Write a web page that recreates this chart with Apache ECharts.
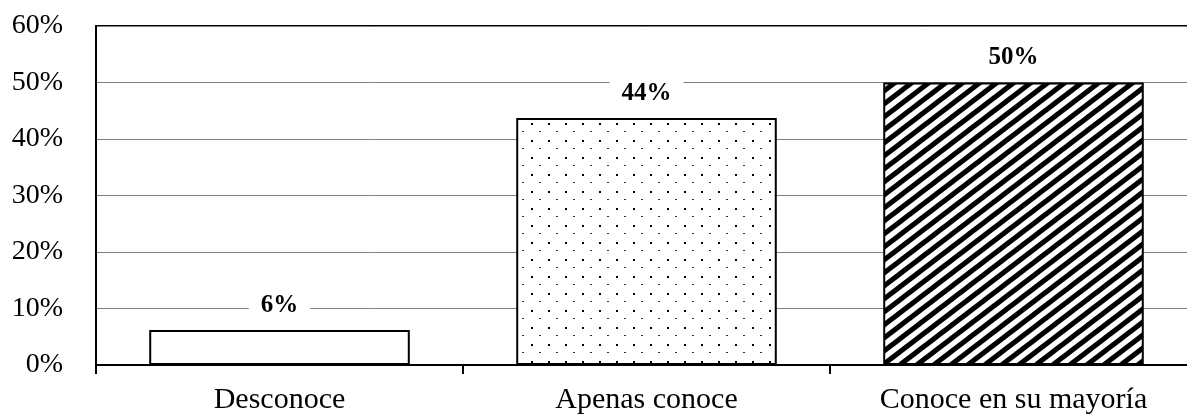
<!DOCTYPE html>
<html>
<head>
<meta charset="utf-8">
<script src="https://cdn.jsdelivr.net/npm/echarts@6/dist/echarts.min.js"></script>
<style>
  html,body{margin:0;padding:0;background:#fff;overflow:hidden;}
  #chart{width:1197px;height:417px;}
</style>
</head>
<body>
<div id="chart"></div>
<script>
// datos
var categorias = ['Desconoce', 'Apenas conoce', 'Conoce en su mayoría'];
var valores = [6.2, 43.7, 50.0];
var etiquetas = ['6%', '44%', '50%'];

// tramas de relleno
function tramaPuntos() {
  var c = document.createElement('canvas');
  c.width = 17; c.height = 17;
  var ctx = c.getContext('2d');
  ctx.fillStyle = '#fff';
  ctx.fillRect(0, 0, 17, 17);
  ctx.fillStyle = '#000';
  ctx.fillRect(4, 4, 2, 2);
  ctx.fillStyle = '#333';
  ctx.fillRect(12, 12, 2, 1);
  return c;
}
function tramaRayas() {
  var w = 17, h = 13;
  var c = document.createElement('canvas');
  c.width = w; c.height = h;
  var ctx = c.getContext('2d');
  ctx.fillStyle = '#fff';
  ctx.fillRect(0, 0, w, h);
  ctx.strokeStyle = '#000';
  ctx.lineWidth = 5;
  for (var k = -2; k <= 2; k++) {
    // lineas largas para que no queden cortes en las esquinas
    ctx.beginPath();
    ctx.moveTo(k * w - w, 2 * h);
    ctx.lineTo(k * w + 2 * w, -h);
    ctx.stroke();
  }
  return c;
}

var rellenos = ['#ffffff',
  {image: tramaPuntos(), repeat: 'repeat'},
  {image: tramaRayas(), repeat: 'repeat'}];

var chart = echarts.init(document.getElementById('chart'));
var option = {
  animation: false,
  textStyle: {fontFamily: 'Liberation Serif'},
  grid: {
    left: 96, right: 0, top: 26, bottom: 52,
    show: true, borderColor: '#000', borderWidth: 2, backgroundColor: 'transparent'
  },
  xAxis: {
    type: 'category',
    data: categorias,
    axisLine: {lineStyle: {color: '#000', width: 2}},
    axisTick: {show: true, length: 9, lineStyle: {color: '#000', width: 2}},
    axisLabel: {color: '#000', fontSize: 30, margin: 20, fontFamily: 'Liberation Serif'}
  },
  yAxis: {
    type: 'value',
    min: 0, max: 60, interval: 10,
    axisLine: {show: true, lineStyle: {color: '#000', width: 2}},
    axisTick: {show: false},
    splitLine: {lineStyle: {color: '#808080', width: 1}},
    axisLabel: {color: '#000', fontSize: 28, margin: 33, formatter: '{value}%', fontFamily: 'Liberation Serif'}
  },
  series: [{
    type: 'bar',
    barCategoryGap: '29%',
    data: valores.map(function (v, i) {
      return {
        value: v,
        itemStyle: {color: rellenos[i]},
        label: {formatter: etiquetas[i]}
      };
    }),
    itemStyle: {borderColor: '#000', borderWidth: 2},
    label: {
      show: true,
      position: 'top',
      distance: 10,
      color: '#000',
      fontSize: 25,
      fontWeight: 'bold',
      fontFamily: 'Liberation Serif',
      backgroundColor: '#fff',
      padding: [2, 12, 2, 12]
    }
  }]
};
chart.setOption(option);
</script>
</body>
</html>
